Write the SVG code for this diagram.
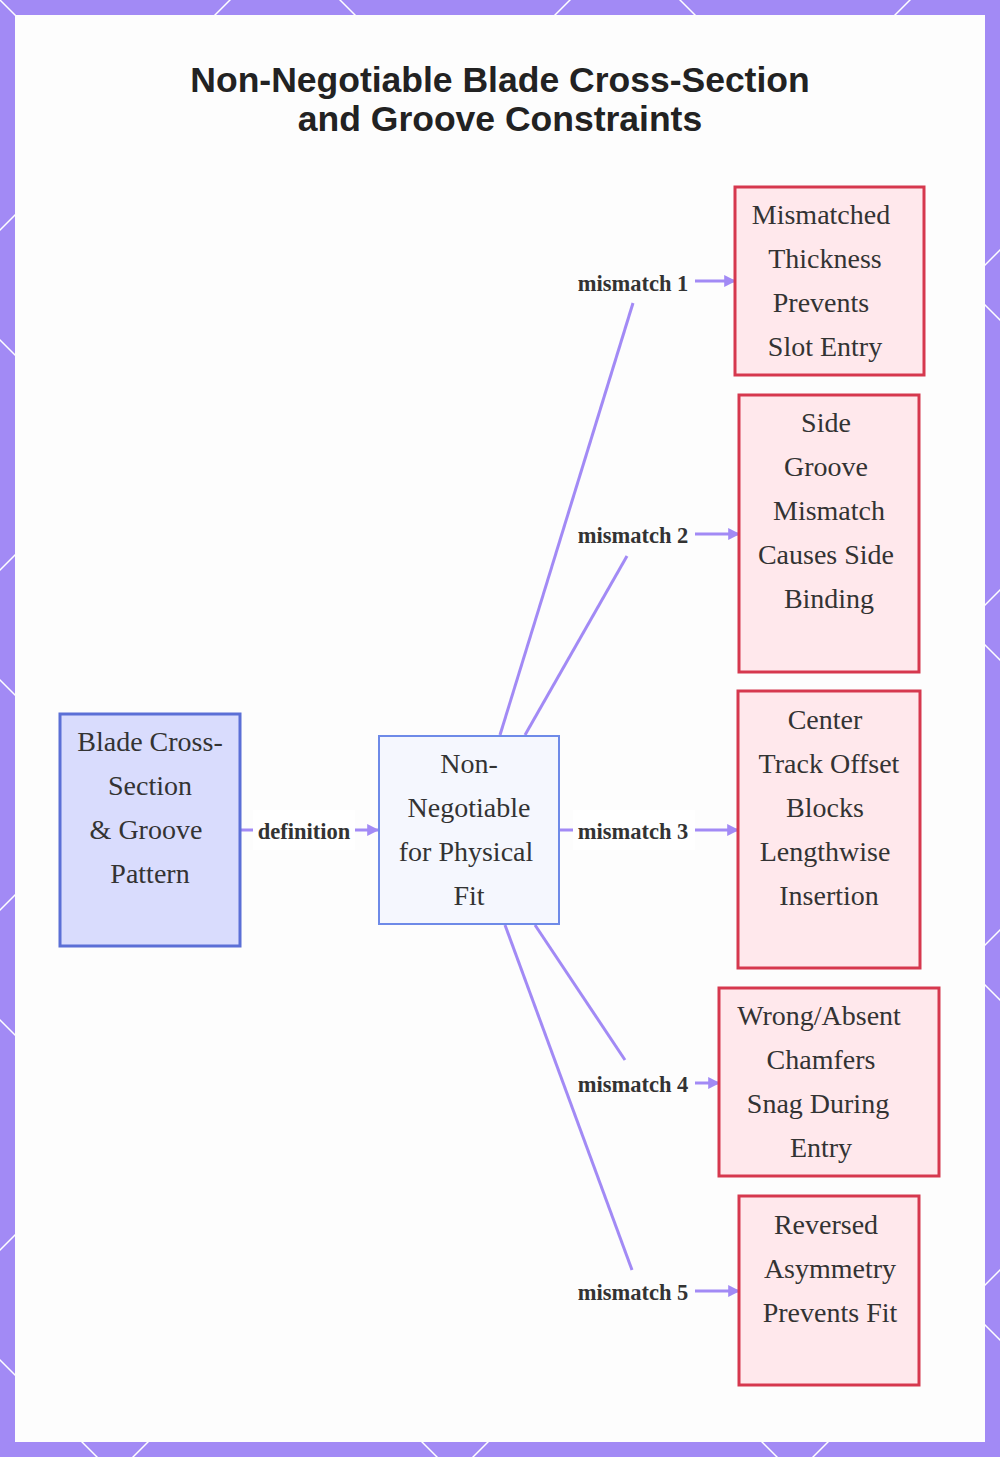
<svg xmlns="http://www.w3.org/2000/svg" width="1000" height="1457" viewBox="0 0 1000 1457">
<defs>
<pattern id="bg" width="340" height="340" patternUnits="userSpaceOnUse" x="-55" y="-55">
<rect width="340" height="340" fill="#a28af5"/>
<path d="M0,0L340,340M340,0L0,340" stroke="#fff" stroke-width="1.5"/>
</pattern>
<marker id="ar" viewBox="0 0 10 10" refX="9" refY="5" markerWidth="4" markerHeight="4" orient="auto"><path d="M0,0L10,5L0,10z" fill="#a28af5"/></marker>
</defs>
<style>
.n text{font-family:"Liberation Serif",serif;font-size:28px;fill:#333;text-anchor:middle}
.lb{font-family:"Liberation Serif",serif;font-size:22.5px;font-weight:bold;fill:#333;text-anchor:middle}
.r rect{fill:#ffe8ec;stroke:#d6384e;stroke-width:3}
.c path{fill:none;stroke:#a28af5;stroke-width:3}
</style>
<rect width="1000" height="1457" fill="url(#bg)"/>
<rect x="15" y="15" width="970" height="1427" fill="#fdfdfd"/>
<text x="500" y="92" font-family="Liberation Sans,Arial,sans-serif" font-size="35.5" font-weight="bold" fill="#222" text-anchor="middle">Non-Negotiable Blade Cross-Section</text>
<text x="500" y="131" font-family="Liberation Sans,Arial,sans-serif" font-size="35.5" font-weight="bold" fill="#222" text-anchor="middle">and Groove Constraints</text>
<g class="c">
<path d="M240,830H378" marker-end="url(#ar)"/>
<path d="M500,735L633,303"/><path d="M695,281H735" marker-end="url(#ar)"/>
<path d="M525,735L627,556"/><path d="M695,534H739" marker-end="url(#ar)"/>
<path d="M560,830H738" marker-end="url(#ar)"/>
<path d="M535,925L625,1060"/><path d="M695,1083H719" marker-end="url(#ar)"/>
<path d="M505,925L632,1270"/><path d="M695,1291H739" marker-end="url(#ar)"/>
</g>
<g>
<rect x="253" y="810" width="102" height="40" fill="#fff"/><text class="lb" x="304" y="839">definition</text>
<text class="lb" x="633" y="291">mismatch 1</text>
<text class="lb" x="633" y="543">mismatch 2</text>
<rect x="573" y="810" width="122" height="40" fill="#fff"/><text class="lb" x="633" y="839">mismatch 3</text>
<text class="lb" x="633" y="1092">mismatch 4</text>
<text class="lb" x="633" y="1300">mismatch 5</text>
</g>
<g id="n0" class="n"><rect x="60" y="714" width="180" height="232" fill="#d9dcfd" stroke="#5b6fd6" stroke-width="3"/>
<text x="150" y="751">Blade Cross-</text><text x="150" y="795">Section</text><text x="146" y="839">&amp; Groove</text><text x="150" y="883">Pattern</text></g>
<g id="n1" class="n"><rect x="379" y="736" width="180" height="188" fill="#f5f7fe" stroke="#6e8ae8" stroke-width="2"/>
<text x="469" y="773">Non-</text><text x="469" y="817">Negotiable</text><text x="466" y="861">for Physical</text><text x="469" y="905">Fit</text></g>
<g id="n2" class="n r"><rect x="735" y="187" width="189" height="188"/>
<text x="821" y="224">Mismatched</text><text x="825" y="268">Thickness</text><text x="821" y="312">Prevents</text><text x="825" y="356">Slot Entry</text></g>
<g id="n3" class="n r"><rect x="739" y="395" width="180" height="277"/>
<text x="826" y="432">Side</text><text x="826" y="476">Groove</text><text x="829" y="520">Mismatch</text><text x="826" y="564">Causes Side</text><text x="829" y="608">Binding</text></g>
<g id="n4" class="n r"><rect x="738" y="691" width="182" height="277"/>
<text x="825" y="729">Center</text><text x="829" y="773">Track Offset</text><text x="825" y="817">Blocks</text><text x="825" y="861">Lengthwise</text><text x="829" y="905">Insertion</text></g>
<g id="n5" class="n r"><rect x="719" y="988" width="220" height="188"/>
<text x="819" y="1025">Wrong/Absent</text><text x="821" y="1069">Chamfers</text><text x="818" y="1113">Snag During</text><text x="821" y="1157">Entry</text></g>
<g id="n6" class="n r"><rect x="739" y="1196" width="180" height="189"/>
<text x="826" y="1234">Reversed</text><text x="830" y="1278">Asymmetry</text><text x="830" y="1322">Prevents Fit</text></g>
</svg>
